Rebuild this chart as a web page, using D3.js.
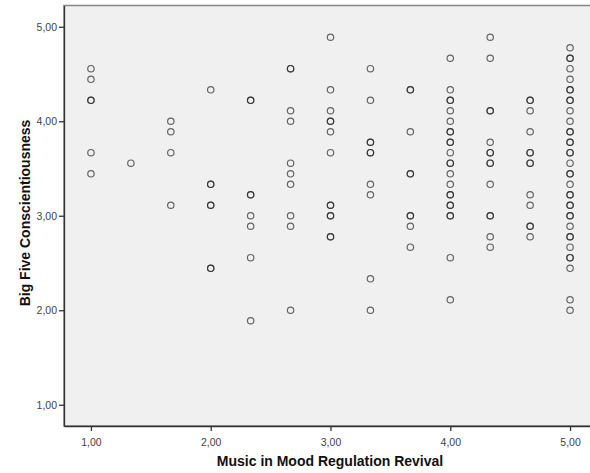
<!DOCTYPE html>
<html>
<head>
<meta charset="utf-8">
<script src="https://cdn.jsdelivr.net/npm/d3@7"></script>
<style>
  body { margin: 0; background: #fff; }
  svg { display: block; font-family: "Liberation Sans", Arial, sans-serif; }
</style>
</head>
<body>
<svg></svg>
<script>
// x categories (Music in Mood Regulation Revival) and the y values at each one
// repeated values = overlapping cases (drawn darker)
var xValues = [1, 4/3, 5/3, 2, 7/3, 8/3, 3, 10/3, 11/3, 4, 13/3, 14/3, 5];
var yByX = [
  [4.556, 4.444, 4.222, 4.222, 3.667, 3.444],
  [3.556],
  [4.0, 3.889, 3.667, 3.111],
  [4.333, 3.333, 3.333, 3.111, 3.111, 2.444, 2.444],
  [4.222, 4.222, 3.222, 3.222, 3.0, 2.889, 2.556, 1.889],
  [4.556, 4.556, 4.111, 4.0, 3.556, 3.444, 3.333, 3.0, 2.889, 2.0],
  [4.889, 4.333, 4.111, 4.0, 4.0, 3.889, 3.667, 3.111, 3.111, 3.0, 3.0, 2.778, 2.778],
  [4.556, 4.222, 3.778, 3.778, 3.667, 3.667, 3.333, 3.222, 2.333, 2.0],
  [4.333, 4.333, 3.889, 3.444, 3.444, 3.0, 3.0, 2.889, 2.667],
  [4.667, 4.333, 4.222, 4.222, 4.111, 4.0, 3.889, 3.889, 3.778, 3.778, 3.667, 3.556, 3.556,
   3.444, 3.333, 3.222, 3.222, 3.111, 3.111, 3.0, 3.0, 2.556, 2.111],
  [4.889, 4.667, 4.111, 4.111, 3.778, 3.667, 3.667, 3.556, 3.556, 3.333, 3.0, 3.0, 2.778, 2.667],
  [4.222, 4.222, 4.111, 3.889, 3.667, 3.667, 3.556, 3.556, 3.222, 3.111, 2.889, 2.889, 2.778],
  [4.778, 4.667, 4.667, 4.556, 4.444, 4.333, 4.333, 4.222, 4.222, 4.111, 4.0, 3.889, 3.889,
   3.778, 3.778, 3.667, 3.667, 3.556, 3.444, 3.444, 3.333, 3.222, 3.222, 3.111, 3.111,
   3.0, 3.0, 2.889, 2.778, 2.778, 2.667, 2.556, 2.556, 2.444, 2.111, 2.0]
];
var xTicks = [1, 2, 3, 4, 5];
var yTicks = [1, 2, 3, 4, 5];
var xTitle = "Music in Mood Regulation Revival";
var yTitle = "Big Five Conscientiousness";

var width = 590, height = 473;
var margin = {top: 5.5, left: 64, bottom: 47, right: -7};

var svg = d3.select("svg")
    .attr("width", width)
    .attr("height", height);

var x = d3.scaleLinear()
    .domain([0.775, 5.225])
    .range([margin.left, width - margin.right]);
var y = d3.scaleLinear()
    .domain([0.775, 5.225])
    .range([height - margin.bottom, margin.top]);

var fmt = function(d) { return d3.format(".2f")(d).replace(".", ","); };

// plot background
svg.append("rect")
    .attr("x", x.range()[0])
    .attr("y", y.range()[1])
    .attr("width", x.range()[1] - x.range()[0])
    .attr("height", y.range()[0] - y.range()[1])
    .attr("fill", "#f0f0f0")
    .attr("stroke", "#8a8a8a")
    .attr("stroke-width", 1.6);

// points
var points = [];
xValues.forEach(function(xv, i) {
  yByX[i].forEach(function(yv) { points.push({x: xv, y: yv}); });
});

svg.append("g")
  .selectAll("circle")
  .data(points)
  .enter()
  .append("circle")
    .attr("cx", function(d) { return x(d.x); })
    .attr("cy", function(d) { return y(d.y); })
    .attr("r", 3.2)
    .attr("fill", "none")
    .attr("stroke", "#222")
    .attr("stroke-opacity", 0.68)
    .attr("stroke-width", 1.2);

// axes
var xAxis = svg.append("g")
    .attr("transform", "translate(0," + y.range()[0] + ")")
    .call(d3.axisBottom(x).tickValues(xTicks).tickFormat(fmt).tickSize(5).tickSizeOuter(0));
var yAxis = svg.append("g")
    .attr("transform", "translate(" + x.range()[0] + ",0)")
    .call(d3.axisLeft(y).tickValues(yTicks).tickFormat(fmt).tickSize(5).tickSizeOuter(0));

[xAxis, yAxis].forEach(function(g) {
  g.select(".domain").attr("stroke", "#333").attr("stroke-width", 1.3);
  g.selectAll(".tick line").attr("stroke", "#333").attr("stroke-width", 1.3);
  g.selectAll(".tick text")
    .attr("fill", "#444")
    .style("font-family", "'Liberation Sans', Arial, sans-serif")
    .style("font-size", "10.5px");
});
xAxis.selectAll(".tick text").attr("dy", "1.1em");
yAxis.selectAll(".tick text").attr("x", -7).attr("dy", "0.35em");

// axis titles
svg.append("text")
    .attr("x", 330)
    .attr("y", 466)
    .attr("text-anchor", "middle")
    .style("font-weight", "bold")
    .style("font-size", "14px")
    .attr("fill", "#111")
    .text(xTitle);

svg.append("text")
    .attr("transform", "translate(30,213) rotate(-90)")
    .attr("text-anchor", "middle")
    .style("font-weight", "bold")
    .style("font-size", "14px")
    .attr("fill", "#111")
    .text(yTitle);
</script>
</body>
</html>
